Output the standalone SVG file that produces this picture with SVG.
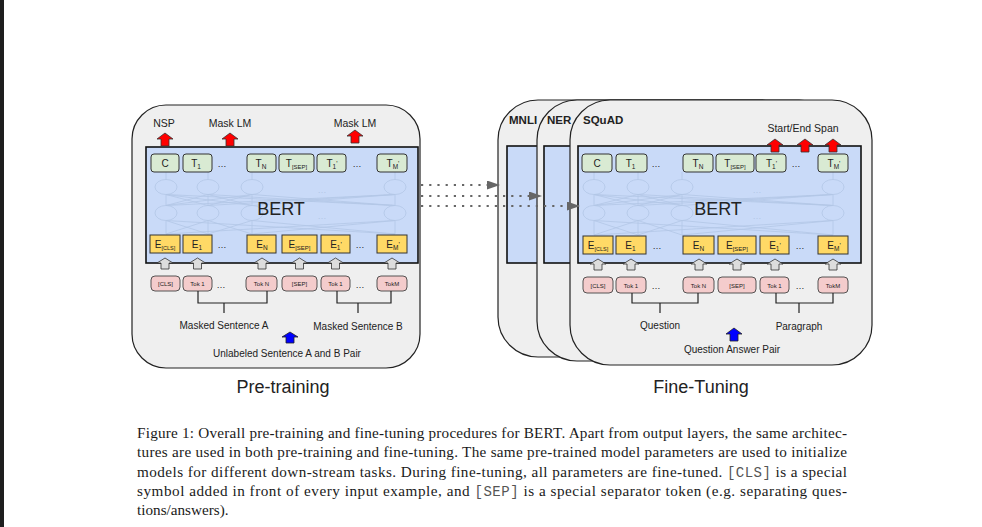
<svg xmlns="http://www.w3.org/2000/svg" xmlns:xlink="http://www.w3.org/1999/xlink" width="982" height="527" viewBox="0 0 982 527">
<style>
.panel{fill:#efefef;stroke:#222;stroke-width:1.2}
.blue{fill:#c9daf8;stroke:#111;stroke-width:1.6}
.tbox{fill:#d9ead3;stroke:#333;stroke-width:1}
.ebox{fill:#ffd966;stroke:#333;stroke-width:1}
.tok{fill:#f4cccc;stroke:#444;stroke-width:0.9}
.lbl{font-family:"Liberation Sans",Arial,sans-serif;fill:#222}
.bold{font-weight:bold}
.sm{font-size:10.5px}
.tk{font-size:10px;text-anchor:middle}
.tt{font-size:6px;text-anchor:middle}
.dots{font-size:9px;text-anchor:middle}
.red{fill:#ff0000;stroke:#333;stroke-width:0.8}
.gray{fill:#dddddd;stroke:#333;stroke-width:0.8}
.bluea{fill:#0000ff;stroke:#222;stroke-width:0.8}
.brk{fill:none;stroke:#222;stroke-width:1.2}
.net{fill:none;stroke:#b3c6e6;stroke-width:0.8}
.dotted{stroke:#666;stroke-width:2.2;stroke-dasharray:2.2 6;fill:none}
.cap{font-family:"Liberation Serif","Times New Roman",serif;font-size:15.2px;fill:#1a1a1a}
.mono{font-family:"Liberation Mono","Courier New",monospace;font-size:14px;fill:#555}
</style>
<defs>
<path id="ua" d="M0,0 L8,6 L4,6 L4,13 L-4,13 L-4,6 L-8,6 Z"/>
<path id="ga" d="M0,0 L8,5 L4,5 L4,11 L-4,11 L-4,5 L-8,5 Z"/>
<marker id="ah" markerUnits="userSpaceOnUse" markerWidth="14" markerHeight="10" refX="13" refY="4.5" orient="auto">
<path d="M0,0 L13,4.5 L0,9 Z" fill="#666"/>
</marker>
</defs>
<rect x="0" y="0" width="982" height="527" fill="#ffffff"/>
<rect x="0" y="0" width="4" height="527" fill="#1e1e1e"/>

<!-- PRE-TRAINING PANEL -->
<g id="pretrain-panel">
<rect class="panel" x="132" y="105" width="288" height="263" rx="34"/>
<rect class="blue" x="146" y="147" width="272" height="116"/>
<g id="pt-net">
<ellipse class="net" cx="166" cy="187" rx="11" ry="7.5"/><ellipse class="net" cx="208" cy="187" rx="11" ry="7.5"/><ellipse class="net" cx="252" cy="187" rx="11" ry="7.5"/><ellipse class="net" cx="395" cy="187" rx="11" ry="7.5"/>
<ellipse class="net" cx="166" cy="213" rx="11" ry="7.5"/><ellipse class="net" cx="208" cy="213" rx="11" ry="7.5"/><ellipse class="net" cx="252" cy="213" rx="11" ry="7.5"/><ellipse class="net" cx="395" cy="213" rx="11" ry="7.5"/>
<path class="net" d="M166,205.5 L208,194.5 M166,205.5 L252,194.5 M166,205.5 L395,194.5 M208,205.5 L166,194.5 M208,205.5 L252,194.5 M208,205.5 L395,194.5 M252,205.5 L166,194.5 M252,205.5 L208,194.5 M252,205.5 L395,194.5 M395,205.5 L166,194.5 M395,205.5 L208,194.5 M395,205.5 L252,194.5 M166,205.5 V194.5 M208,205.5 V194.5 M252,205.5 V194.5 M395,205.5 V194.5"/>
<path class="net" d="M166,220.5 L208,234 M166,220.5 L395,234 M208,220.5 L166,234 M208,220.5 L252,234 M252,220.5 L208,234 M252,220.5 L395,234 M395,220.5 L166,234 M395,220.5 L252,234 M166,220.5 V234 M208,220.5 V234 M252,220.5 V234 M395,220.5 V234 M166,179.5 V172 M208,179.5 V172 M252,179.5 V172 M395,179.5 V172"/>
<text class="lbl dots" x="322" y="193" style="fill:#b3c6e6">…</text>
<text class="lbl dots" x="322" y="219" style="fill:#b3c6e6">…</text>
</g>
<text class="lbl" x="281" y="215" font-size="18" text-anchor="middle">BERT</text>
</g>

<g id="pt-out">
<g id="pt-C"><rect class="tbox" x="151" y="154" width="28" height="18" rx="3"/><text class="lbl tk" x="165" y="167">C</text></g>
<g id="pt-T1"><rect class="tbox" x="183" y="154" width="29" height="18" rx="3"/><text class="lbl tk" x="196" y="167">T<tspan font-size="6.5" dy="2">1</tspan></text></g>
<text class="lbl dots" x="222" y="167">…</text>
<g id="pt-TN"><rect class="tbox" x="247" y="154" width="29" height="18" rx="3"/><text class="lbl tk" x="261" y="167">T<tspan font-size="6.5" dy="2">N</tspan></text></g>
<g id="pt-TSEP"><rect class="tbox" x="279" y="154" width="35" height="18" rx="3"/><text class="lbl tk" x="296.5" y="167">T<tspan font-size="6" dy="2">[SEP]</tspan></text></g>
<g id="pt-T1p"><rect class="tbox" x="317" y="154" width="29" height="18" rx="3"/><text class="lbl tk" x="332" y="167">T<tspan font-size="6.5" dy="2">1</tspan><tspan dy="-3" font-size="7">'</tspan></text></g>
<text class="lbl dots" x="357" y="167">…</text>
<g id="pt-TMp"><rect class="tbox" x="377" y="154" width="30" height="18" rx="3"/><text class="lbl tk" x="393" y="167">T<tspan font-size="6.5" dy="2">M</tspan><tspan dy="-3" font-size="7">'</tspan></text></g>
</g>

<g id="pt-emb">
<g id="pt-ECLS"><rect class="ebox" x="150" y="235" width="30" height="18"/><text class="lbl tk" x="165" y="248">E<tspan font-size="5.5" dy="2">[CLS]</tspan></text></g>
<g id="pt-E1"><rect class="ebox" x="183" y="235" width="29" height="18"/><text class="lbl tk" x="197" y="248">E<tspan font-size="6.5" dy="2">1</tspan></text></g>
<text class="lbl dots" x="222" y="248">…</text>
<g id="pt-EN"><rect class="ebox" x="247" y="235" width="29" height="18"/><text class="lbl tk" x="262" y="248">E<tspan font-size="6.5" dy="2">N</tspan></text></g>
<g id="pt-ESEP"><rect class="ebox" x="282" y="235" width="35" height="18"/><text class="lbl tk" x="299.5" y="248">E<tspan font-size="6" dy="2">[SEP]</tspan></text></g>
<g id="pt-E1p"><rect class="ebox" x="321" y="235" width="29" height="18"/><text class="lbl tk" x="336" y="248">E<tspan font-size="6.5" dy="2">1</tspan><tspan dy="-3" font-size="7">'</tspan></text></g>
<text class="lbl dots" x="360" y="248">…</text>
<g id="pt-EMp"><rect class="ebox" x="377" y="235" width="30" height="18"/><text class="lbl tk" x="393" y="248">E<tspan font-size="6.5" dy="2">M</tspan><tspan dy="-3" font-size="7">'</tspan></text></g>
</g>

<g id="pt-tokens">
<g id="pt-tokCLS"><rect class="tok" x="151" y="276" width="29" height="15" rx="4"/><text class="lbl tt" x="165.5" y="286">[CLS]</text></g>
<g id="pt-tok1"><rect class="tok" x="183" y="276" width="29" height="15" rx="4"/><text class="lbl tt" x="197.5" y="286">Tok 1</text></g>
<text class="lbl dots" x="221" y="288">…</text>
<g id="pt-tokN"><rect class="tok" x="246" y="276" width="31" height="15" rx="4"/><text class="lbl tt" x="261.5" y="286">Tok N</text></g>
<g id="pt-tokSEP"><rect class="tok" x="282" y="276" width="35" height="15" rx="4"/><text class="lbl tt" x="299.5" y="286">[SEP]</text></g>
<g id="pt-tok1b"><rect class="tok" x="321" y="276" width="29" height="15" rx="4"/><text class="lbl tt" x="335.5" y="286">Tok 1</text></g>
<text class="lbl dots" x="360" y="288">…</text>
<g id="pt-tokM"><rect class="tok" x="377" y="276" width="30" height="15" rx="4"/><text class="lbl tt" x="392" y="286">TokM</text></g>
</g>

<g id="pt-labels">
<text class="lbl sm" x="164" y="127" text-anchor="middle">NSP</text>
<text class="lbl sm" x="230" y="127" text-anchor="middle">Mask LM</text>
<text class="lbl sm" x="355" y="127" text-anchor="middle">Mask LM</text>
<text class="lbl" x="224" y="329" font-size="10" text-anchor="middle">Masked Sentence A</text>
<text class="lbl" x="358" y="330" font-size="10" text-anchor="middle">Masked Sentence B</text>
<text class="lbl" x="287" y="357" font-size="10" text-anchor="middle">Unlabeled Sentence A and B Pair</text>
<text class="lbl" x="283" y="393" font-size="18" text-anchor="middle">Pre-training</text>
</g>

<!-- FINE-TUNING PANELS -->
<g id="mnli-panel">
<rect class="panel" x="498" y="100" width="302" height="257" rx="40"/>
<rect class="blue" x="507" y="146" width="283" height="117"/>
<text class="lbl bold" x="509" y="124" font-size="11.5">MNLI</text>
</g>
<g id="ner-panel">
<rect class="panel" x="537" y="100" width="302" height="261" rx="40"/>
<rect class="blue" x="544" y="146" width="283" height="117"/>
<text class="lbl bold" x="547" y="124" font-size="11.5">NER</text>
</g>
<g id="squad-panel">
<rect class="panel" x="570" y="100" width="302" height="265" rx="40"/>
<rect class="blue" x="578" y="146" width="283" height="117"/>
<text class="lbl bold" x="583" y="124" font-size="11.5">SQuAD</text>
<g id="ft-net">
<ellipse class="net" cx="594" cy="187" rx="11" ry="7.5"/><ellipse class="net" cx="638" cy="187" rx="11" ry="7.5"/><ellipse class="net" cx="682" cy="187" rx="11" ry="7.5"/><ellipse class="net" cx="833" cy="187" rx="11" ry="7.5"/>
<ellipse class="net" cx="594" cy="213" rx="11" ry="7.5"/><ellipse class="net" cx="638" cy="213" rx="11" ry="7.5"/><ellipse class="net" cx="682" cy="213" rx="11" ry="7.5"/><ellipse class="net" cx="833" cy="213" rx="11" ry="7.5"/>
<path class="net" d="M594,205.5 L638,194.5 M594,205.5 L682,194.5 M594,205.5 L833,194.5 M638,205.5 L594,194.5 M638,205.5 L682,194.5 M638,205.5 L833,194.5 M682,205.5 L594,194.5 M682,205.5 L638,194.5 M682,205.5 L833,194.5 M833,205.5 L594,194.5 M833,205.5 L638,194.5 M833,205.5 L682,194.5 M594,205.5 V194.5 M638,205.5 V194.5 M682,205.5 V194.5 M833,205.5 V194.5"/>
<path class="net" d="M594,220.5 L638,235 M594,220.5 L833,235 M638,220.5 L594,235 M638,220.5 L682,235 M682,220.5 L638,235 M682,220.5 L833,235 M833,220.5 L594,235 M833,220.5 L682,235 M594,220.5 V235 M638,220.5 V235 M682,220.5 V235 M833,220.5 V235 M594,179.5 V172 M638,179.5 V172 M682,179.5 V172 M833,179.5 V172"/>
<text class="lbl dots" x="757" y="193" style="fill:#b3c6e6">…</text>
<text class="lbl dots" x="757" y="219" style="fill:#b3c6e6">…</text>
</g>
<text class="lbl" x="718" y="215" font-size="18" text-anchor="middle">BERT</text>
</g>

<g id="ft-out">
<g id="ft-C"><rect class="tbox" x="582" y="154" width="30" height="18" rx="3"/><text class="lbl tk" x="597" y="167">C</text></g>
<g id="ft-T1"><rect class="tbox" x="616" y="154" width="31" height="18" rx="3"/><text class="lbl tk" x="630.5" y="167">T<tspan font-size="6.5" dy="2">1</tspan></text></g>
<text class="lbl dots" x="656" y="167">…</text>
<g id="ft-TN"><rect class="tbox" x="683" y="154" width="30" height="18" rx="3"/><text class="lbl tk" x="698" y="167">T<tspan font-size="6.5" dy="2">N</tspan></text></g>
<g id="ft-TSEP"><rect class="tbox" x="716" y="154" width="38" height="18" rx="3"/><text class="lbl tk" x="735" y="167">T<tspan font-size="6" dy="2">[SEP]</tspan></text></g>
<g id="ft-T1p"><rect class="tbox" x="756" y="154" width="30" height="18" rx="3"/><text class="lbl tk" x="771.5" y="167">T<tspan font-size="6.5" dy="2">1</tspan><tspan dy="-3" font-size="7">'</tspan></text></g>
<text class="lbl dots" x="796" y="167">…</text>
<g id="ft-TMp"><rect class="tbox" x="818" y="154" width="30" height="18" rx="3"/><text class="lbl tk" x="834" y="167">T<tspan font-size="6.5" dy="2">M</tspan><tspan dy="-3" font-size="7">'</tspan></text></g>
</g>

<g id="ft-emb">
<g id="ft-ECLS"><rect class="ebox" x="583" y="236" width="30" height="18"/><text class="lbl tk" x="598" y="249">E<tspan font-size="5.5" dy="2">[CLS]</tspan></text></g>
<g id="ft-E1"><rect class="ebox" x="616" y="236" width="30" height="18"/><text class="lbl tk" x="630.5" y="249">E<tspan font-size="6.5" dy="2">1</tspan></text></g>
<text class="lbl dots" x="657" y="249">…</text>
<g id="ft-EN"><rect class="ebox" x="683" y="236" width="31" height="18"/><text class="lbl tk" x="698.5" y="249">E<tspan font-size="6.5" dy="2">N</tspan></text></g>
<g id="ft-ESEP"><rect class="ebox" x="718" y="236" width="38" height="18"/><text class="lbl tk" x="737" y="249">E<tspan font-size="6" dy="2">[SEP]</tspan></text></g>
<g id="ft-E1p"><rect class="ebox" x="760" y="236" width="29" height="18"/><text class="lbl tk" x="775" y="249">E<tspan font-size="6.5" dy="2">1</tspan><tspan dy="-3" font-size="7">'</tspan></text></g>
<text class="lbl dots" x="800" y="249">…</text>
<g id="ft-EMp"><rect class="ebox" x="818" y="236" width="30" height="18"/><text class="lbl tk" x="834" y="249">E<tspan font-size="6.5" dy="2">M</tspan><tspan dy="-3" font-size="7">'</tspan></text></g>
</g>

<g id="ft-tokens">
<g id="ft-tokCLS"><rect class="tok" x="583" y="277" width="30" height="16" rx="4"/><text class="lbl tt" x="598" y="287.5">[CLS]</text></g>
<g id="ft-tok1"><rect class="tok" x="616" y="277" width="30" height="16" rx="4"/><text class="lbl tt" x="631" y="287.5">Tok 1</text></g>
<text class="lbl dots" x="656" y="289">…</text>
<g id="ft-tokN"><rect class="tok" x="683" y="277" width="31" height="16" rx="4"/><text class="lbl tt" x="698.5" y="287.5">Tok N</text></g>
<g id="ft-tokSEP"><rect class="tok" x="718" y="277" width="38" height="16" rx="4"/><text class="lbl tt" x="737" y="287.5">[SEP]</text></g>
<g id="ft-tok1b"><rect class="tok" x="760" y="277" width="29" height="16" rx="4"/><text class="lbl tt" x="774.5" y="287.5">Tok 1</text></g>
<text class="lbl dots" x="800" y="289">…</text>
<g id="ft-tokM"><rect class="tok" x="818" y="277" width="30" height="16" rx="4"/><text class="lbl tt" x="833" y="287.5">TokM</text></g>
</g>

<g id="ft-labels">
<text class="lbl sm" x="803" y="132" text-anchor="middle">Start/End Span</text>
<text class="lbl" x="660" y="329" font-size="10" text-anchor="middle">Question</text>
<text class="lbl" x="799" y="330" font-size="10" text-anchor="middle">Paragraph</text>
<text class="lbl" x="732" y="353" font-size="10" text-anchor="middle">Question Answer Pair</text>
<text class="lbl" x="701" y="393" font-size="18" text-anchor="middle">Fine-Tuning</text>
</g>

<!-- CONNECTORS -->
<g id="connectors">
<use xlink:href="#ua" class="red" x="165" y="133"/>
<use xlink:href="#ua" class="red" x="230" y="133"/>
<use xlink:href="#ua" class="red" x="355" y="130"/>
<use xlink:href="#ua" class="red" x="775" y="139"/>
<use xlink:href="#ua" class="red" x="805" y="139"/>
<use xlink:href="#ua" class="red" x="833" y="139"/>
<use xlink:href="#ga" class="gray" x="165" y="258"/>
<use xlink:href="#ga" class="gray" x="197.5" y="258"/>
<use xlink:href="#ga" class="gray" x="262" y="258"/>
<use xlink:href="#ga" class="gray" x="299.5" y="258"/>
<use xlink:href="#ga" class="gray" x="335.5" y="258"/>
<use xlink:href="#ga" class="gray" x="392" y="258"/>
<use xlink:href="#ga" class="gray" x="598" y="259"/>
<use xlink:href="#ga" class="gray" x="631" y="259"/>
<use xlink:href="#ga" class="gray" x="699" y="259"/>
<use xlink:href="#ga" class="gray" x="737" y="259"/>
<use xlink:href="#ga" class="gray" x="775" y="259"/>
<use xlink:href="#ga" class="gray" x="833" y="259"/>
<path class="brk" d="M198,291 V303 H267 V291 M224,303 V313"/>
<path class="brk" d="M337,291 V303 H391 V291 M358,303 V313"/>
<path class="brk" d="M632,293 V303 H698 V293 M660,303 V313"/>
<path class="brk" d="M776,293 V303 H833 V293 M799,303 V313"/>
<use xlink:href="#ga" class="bluea" x="290" y="332"/>
<use xlink:href="#ua" class="bluea" x="734" y="328"/>
<path class="dotted" d="M421,185 H500" marker-end="url(#ah)"/>
<path class="dotted" d="M421,196 H542" marker-end="url(#ah)"/>
<path class="dotted" d="M421,206 H580" marker-end="url(#ah)"/>
</g>

<!-- CAPTION -->
<g id="caption">
<text class="cap" x="137" y="438" textLength="710" lengthAdjust="spacing">Figure 1: Overall pre-training and fine-tuning procedures for BERT. Apart from output layers, the same architec-</text>
<text class="cap" x="137" y="457" textLength="710" lengthAdjust="spacing">tures are used in both pre-training and fine-tuning. The same pre-trained model parameters are used to initialize</text>
<text class="cap" x="137" y="477" textLength="710" lengthAdjust="spacing">models for different down-stream tasks. During fine-tuning, all parameters are fine-tuned. <tspan class="mono">[CLS]</tspan> is a special</text>
<text class="cap" x="137" y="496" textLength="710" lengthAdjust="spacing">symbol added in front of every input example, and <tspan class="mono">[SEP]</tspan> is a special separator token (e.g. separating ques-</text>
<text class="cap" x="137" y="515">tions/answers).</text>
</g>
</svg>
